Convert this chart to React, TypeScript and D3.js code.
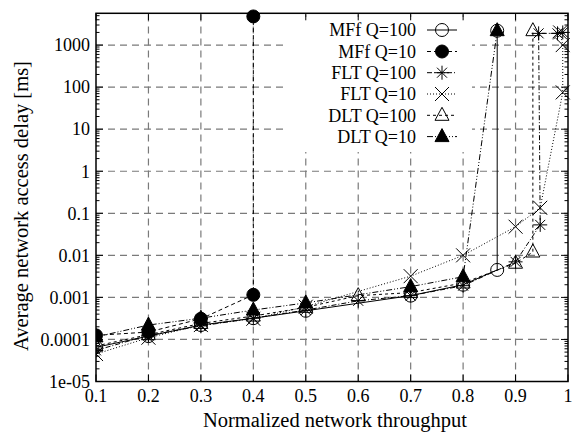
import React from 'react';
import * as d3 from 'd3';

// ---- data ----
const xTickValues = [0.1, 0.2, 0.3, 0.4, 0.5, 0.6, 0.7, 0.8, 0.9, 1];
const xTickLabels = ['0.1', '0.2', '0.3', '0.4', '0.5', '0.6', '0.7', '0.8', '0.9', '1'];
const yTickValues = [1e-5, 1e-4, 1e-3, 1e-2, 1e-1, 1, 10, 100, 1000];
const yTickLabels = ['1e-05', '0.0001', '0.001', '0.01', '0.1', '1', '10', '100', '1000'];

const seriesNames = ['MFf Q=100', 'MFf Q=10', 'FLT Q=100', 'FLT Q=10', 'DLT Q=100', 'DLT Q=10'];

const mff100X = [0.1, 0.2, 0.3, 0.4, 0.5, 0.7, 0.8, 0.865, 0.865];
const mff100Y = [6.5e-5, 1.2e-4, 2.2e-4, 3.2e-4, 4.8e-4, 1.1e-3, 2.0e-3, 4.5e-3, 2200];

const mff10X = [0.1, 0.2, 0.3, 0.4, 0.4];
const mff10Y = [1.25e-4, 1.5e-4, 3.1e-4, 1.15e-3, 4800];

const flt100X = [0.1, 0.2, 0.3, 0.4, 0.5, 0.6, 0.7, 0.8, 0.9, 0.947, 0.944, 0.98, 0.99];
const flt100Y = [5.5e-5, 1.25e-4, 2.1e-4, 3.2e-4, 5e-4, 8.3e-4, 1.1e-3, 1.9e-3, 7e-3, 0.053, 1900, 1900, 2000];

const flt10X = [0.1, 0.2, 0.3, 0.4, 0.5, 0.7, 0.8, 0.9, 0.947, 0.99, 0.99, 0.985];
const flt10Y = [4.5e-5, 1.1e-4, 2.2e-4, 3.1e-4, 6e-4, 3.2e-3, 0.01, 0.048, 0.135, 75, 1000, 2000];

const dlt100X = [0.1, 0.2, 0.3, 0.4, 0.5, 0.6, 0.7, 0.8, 0.9, 0.933, 0.933];
const dlt100Y = [7e-5, 1.3e-4, 2.4e-4, 3.6e-4, 5.8e-4, 1.1e-3, 1.3e-3, 2.2e-3, 6.5e-3, 0.012, 2200];

const dlt10X = [0.1, 0.2, 0.3, 0.4, 0.5, 0.7, 0.8, 0.865];
const dlt10Y = [1.15e-4, 2.2e-4, 3.2e-4, 5e-4, 7.4e-4, 1.8e-3, 3.1e-3, 2200];

// ---- styling ----
const W = 573;
const H = 433;
const PL = 96, PR = 568, PT = 13.3, PB = 381.5;
const FONT = '"Liberation Serif", "DejaVu Serif", serif';

type MarkerType = 'circle' | 'fcircle' | 'star' | 'cross' | 'tri' | 'ftri';

const seriesDefs: { name: string; xs: number[]; ys: number[]; marker: MarkerType; dash: string }[] = [
  { name: seriesNames[0], xs: mff100X, ys: mff100Y, marker: 'circle', dash: '' },
  { name: seriesNames[1], xs: mff10X, ys: mff10Y, marker: 'fcircle', dash: '4,3' },
  { name: seriesNames[2], xs: flt100X, ys: flt100Y, marker: 'star', dash: '5,2,1,2' },
  { name: seriesNames[3], xs: flt10X, ys: flt10Y, marker: 'cross', dash: '1,2' },
  { name: seriesNames[4], xs: dlt100X, ys: dlt100Y, marker: 'tri', dash: '3,3' },
  { name: seriesNames[5], xs: dlt10X, ys: dlt10Y, marker: 'ftri', dash: '6,2,1,2,1,2' },
];

function Marker({ type, cx, cy }: { type: MarkerType; cx: number; cy: number }) {
  const t = `translate(${cx},${cy})`;
  switch (type) {
    case 'circle':
      return <circle cx={cx} cy={cy} r={6.5} fill="none" stroke="#000" strokeWidth={1} />;
    case 'fcircle':
      return <circle cx={cx} cy={cy} r={6.5} fill="#000" stroke="#000" strokeWidth={1} />;
    case 'star':
      return (
        <path transform={t} d="M-7,0H7M0,-7V7M-5,-5L5,5M-5,5L5,-5" stroke="#000" strokeWidth={1} fill="none" />
      );
    case 'cross':
      return <path transform={t} d="M-7,-7L7,7M-7,7L7,-7" stroke="#000" strokeWidth={1} fill="none" />;
    case 'tri':
      return <path transform={t} d="M0,-8L7,5H-7Z" stroke="#000" strokeWidth={1} fill="none" />;
    case 'ftri':
      return <path transform={t} d="M0,-8L7,5H-7Z" stroke="#000" strokeWidth={1} fill="#000" />;
  }
  return null;
}

export default function App() {
  const x = d3.scaleLinear().domain([0.1, 1]).range([PL, PR]);
  const y = d3.scaleLog().domain([1e-5, 5700]).range([PB, PT]);

  const minorY: number[] = [];
  for (let e = -5; e <= 3; e++) {
    for (let k = 2; k <= 9; k++) {
      const v = k * Math.pow(10, e);
      if (v < 5700) minorY.push(v);
    }
  }

  const line = (xs: number[], ys: number[]) =>
    d3.line<number>().x((_, i) => x(xs[i])).y((_, i) => y(ys[i]))(xs) || '';

  const legendRowY = [30, 51.5, 72.7, 94, 115.3, 136.6];
  const gridColor = '#7a7a7a';

  return (
    <div style={{ position: 'absolute', left: 0, top: 0 }}>
      <svg width={W} height={H} style={{ display: 'block', background: '#fff' }}>
        <defs>
          <clipPath id="plotclip">
            <rect x={PL} y={PT - 8} width={PR - PL + 8} height={PB - PT + 8} />
          </clipPath>
        </defs>
        {/* grid */}
        {xTickValues.slice(1, -1).map((v) => (
          <line key={'gx' + v} x1={x(v)} x2={x(v)} y1={PB} y2={PT} stroke={gridColor} strokeWidth={1.2} strokeDasharray="7,5" />
        ))}
        {yTickValues.slice(1).map((v) => (
          <line key={'gy' + v} x1={PL} x2={PR} y1={y(v)} y2={y(v)} stroke={gridColor} strokeWidth={1.2} strokeDasharray="7,5" />
        ))}
        {/* legend background */}
        <rect x={287} y={17} width={185} height={135} fill="#fff" />

        {/* series lines */}
        <g clipPath="url(#plotclip)">
          {seriesDefs.map((s) => (
            <path key={'l' + s.name} d={line(s.xs, s.ys)} fill="none" stroke="#000" strokeWidth={1} strokeDasharray={s.dash || undefined} />
          ))}
          {seriesDefs.map((s) =>
            s.xs.map((xv, i) => <Marker key={s.name + i} type={s.marker} cx={x(xv)} cy={y(s.ys[i])} />)
          )}
        </g>

        {/* axes border */}
        <rect x={PL} y={PT} width={PR - PL} height={PB - PT} fill="none" stroke="#000" strokeWidth={1.5} />
        {/* x ticks */}
        {xTickValues.map((v) => (
          <g key={'xt' + v}>
            <line x1={x(v)} x2={x(v)} y1={PB} y2={PB - 7} stroke="#000" strokeWidth={1} />
            <line x1={x(v)} x2={x(v)} y1={PT} y2={PT + 7} stroke="#000" strokeWidth={1} />
          </g>
        ))}
        {/* y ticks */}
        {yTickValues.map((v) => (
          <g key={'yt' + v}>
            <line x1={PL} x2={PL + 7} y1={y(v)} y2={y(v)} stroke="#000" strokeWidth={1} />
            <line x1={PR} x2={PR - 7} y1={y(v)} y2={y(v)} stroke="#000" strokeWidth={1} />
          </g>
        ))}
        {minorY.map((v) => (
          <g key={'ym' + v}>
            <line x1={PL} x2={PL + 3.5} y1={y(v)} y2={y(v)} stroke="#000" strokeWidth={1} />
            <line x1={PR} x2={PR - 3.5} y1={y(v)} y2={y(v)} stroke="#000" strokeWidth={1} />
          </g>
        ))}
        {/* tick labels */}
        {xTickValues.map((v, i) => (
          <text key={'xl' + v} x={x(v)} y={402} textAnchor="middle" fontFamily={FONT} fontSize={18}>
            {xTickLabels[i]}
          </text>
        ))}
        {yTickValues.map((v, i) => (
          <text key={'yl' + v} x={90} y={y(v)} dy="0.35em" textAnchor="end" fontFamily={FONT} fontSize={18}>
            {yTickLabels[i]}
          </text>
        ))}
        {/* axis titles */}
        <text x={335} y={427} textAnchor="middle" fontFamily={FONT} fontSize={20.5}>
          Normalized network throughput
        </text>
        <text transform={`translate(28,206) rotate(-90)`} textAnchor="middle" fontFamily={FONT} fontSize={20.5}>
          Average network access delay [ms]
        </text>

        {/* legend */}
        {seriesDefs.map((s, i) => (
          <g key={'lg' + s.name}>
            <text x={416} y={legendRowY[i]} dy="0.35em" textAnchor="end" fontFamily={FONT} fontSize={18}>
              {s.name}
            </text>
            <line x1={427} x2={457} y1={legendRowY[i]} y2={legendRowY[i]} stroke="#000" strokeWidth={1} strokeDasharray={s.dash || undefined} />
            <Marker type={s.marker} cx={442} cy={legendRowY[i]} />
          </g>
        ))}
      </svg>
    </div>
  );
}
